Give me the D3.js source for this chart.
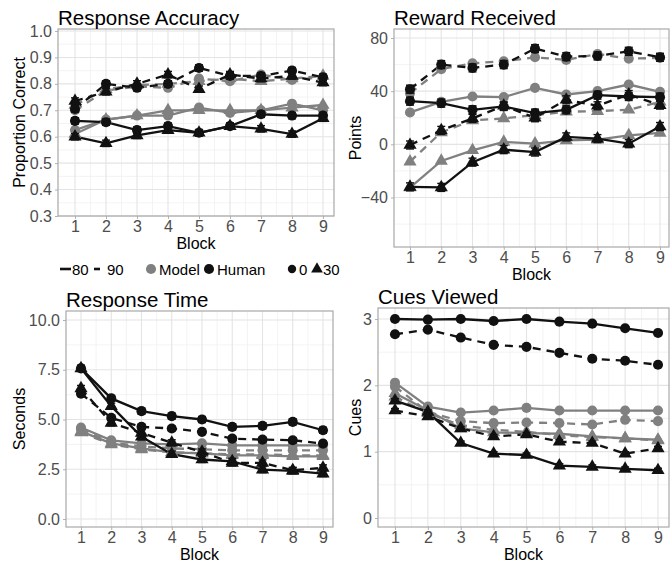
<!DOCTYPE html>
<html>
<head>
<meta charset="utf-8">
<title>Model vs Human</title>
<script type="text/javascript" src="https://d3js.org/d3.v7.js"></script>
<style>
  * { margin: 0; padding: 0; }
  body { background: #fff; }
  svg { display: block; font-family: "Liberation Sans", Arial, sans-serif; }
</style>
</head>
<body>
<div id="chart"></div>
<script type="text/javascript">
// blocks on the x axis
const blocks = [1, 2, 3, 4, 5, 6, 7, 8, 9];

// series order inside every array: [80 / 0, 80 / 30, 90 / 0, 90 / 30]
const seriesLine = ["80", "80", "90", "90"];
const seriesShape = ["0", "30", "0", "30"];

// Response Accuracy
const accModel = [
  [0.625, 0.665, 0.68, 0.68, 0.71, 0.69, 0.70, 0.725, 0.70],
  [0.61, 0.665, 0.68, 0.70, 0.70, 0.70, 0.70, 0.71, 0.72],
  [0.70, 0.775, 0.79, 0.785, 0.82, 0.81, 0.835, 0.815, 0.825],
  [0.72, 0.78, 0.795, 0.80, 0.81, 0.82, 0.81, 0.82, 0.83]
];
const accHuman = [
  [0.66, 0.655, 0.625, 0.64, 0.615, 0.64, 0.685, 0.68, 0.68],
  [0.60, 0.575, 0.605, 0.625, 0.615, 0.64, 0.63, 0.61, 0.67],
  [0.705, 0.80, 0.785, 0.80, 0.86, 0.83, 0.83, 0.85, 0.825],
  [0.735, 0.77, 0.80, 0.835, 0.78, 0.835, 0.82, 0.83, 0.805]
];
const accSE = [0.012, 0.012, 0.012, 0.012];
const accTicks = [0.3, 0.4, 0.5, 0.6, 0.7, 0.8, 0.9, 1.0];

// Reward Received
const rewModel = [
  [24, 32, 36, 35.5, 42.5, 37.5, 40, 45, 39.5],
  [-32.5, -12.5, -4.5, 1.8, 0.5, 3, 3.5, 6.8, 8.6],
  [38.5, 56.5, 61, 62.5, 65.5, 63.5, 68, 64.5, 65],
  [-13, 9, 18, 19.5, 22, 24.5, 25, 26, 32]
];
const rewHuman = [
  [32.5, 31, 26, 28.5, 23.5, 26, 37, 36, 35.5],
  [-32, -32.4, -13.4, -4, -5.8, 5.6, 4.3, 0.5, 13.4],
  [41.5, 60, 57.5, 60, 72, 66, 66.5, 70, 65.5],
  [-0.5, 10.5, 19.5, 29, 20, 33.5, 29, 37.5, 29.5]
];
const rewSE = [3, 3, 3, 3];
const rewTicks = [-40, 0, 40, 80];

// Response Time
const rtModel = [
  [4.6, 3.95, 3.8, 3.75, 3.8, 3.7, 3.7, 3.7, 3.7],
  [4.4, 3.8, 3.55, 3.35, 3.3, 3.2, 3.2, 3.15, 3.15],
  [4.5, 3.85, 3.65, 3.55, 3.5, 3.45, 3.45, 3.45, 3.45],
  [4.35, 3.75, 3.5, 3.35, 3.3, 3.25, 3.25, 3.2, 3.2]
];
const rtHuman = [
  [7.57, 6.06, 5.42, 5.17, 5.0, 4.63, 4.68, 4.88, 4.46],
  [7.57, 5.67, 4.13, 3.26, 2.99, 2.9, 2.48, 2.42, 2.28],
  [6.3, 5.08, 4.63, 4.55, 4.38, 4.04, 3.99, 3.96, 3.79],
  [6.56, 4.83, 4.33, 3.83, 3.37, 2.82, 2.82, 2.45, 2.57]
];
const rtSE = [0.15, 0.15, 0.12, 0.15];
const rtTicks = [0, 2.5, 5, 7.5, 10];

// Cues Viewed
const cueModel = [
  [2.04, 1.68, 1.59, 1.62, 1.66, 1.62, 1.62, 1.62, 1.62],
  [1.88, 1.62, 1.35, 1.29, 1.28, 1.27, 1.23, 1.2, 1.18],
  [1.98, 1.6, 1.46, 1.43, 1.44, 1.43, 1.41, 1.48, 1.46],
  [1.83, 1.58, 1.40, 1.33, 1.30, 1.25, 1.22, 1.2, 1.17]
];
const cueHuman = [
  [3.0, 2.99, 3.0, 2.97, 3.0, 2.96, 2.93, 2.86, 2.79],
  [1.77, 1.6, 1.13, 0.97, 0.95, 0.79, 0.77, 0.74, 0.72],
  [2.77, 2.84, 2.72, 2.61, 2.58, 2.49, 2.40, 2.37, 2.31],
  [1.62, 1.53, 1.35, 1.23, 1.26, 1.15, 1.13, 0.97, 1.05]
];
const cueSE = [0.02, 0.03, 0.03, 0.03];
const cueTicks = [0, 1, 2, 3];

// layout / styling
const W = 670, H = 562;
const colModel = "#808080", colHuman = "#111111";
const dashPat = "8,6";

const panels = [
  { title: "Response Accuracy", ylab: "Proportion Correct", model: accModel, human: accHuman, se: accSE,
    ticks: accTicks, fmt: d3.format(".1f"), box: { l: 58, r: 334, t: 29, b: 216 },
    xPx: [75, 323], yDom: [0.3, 1.0], yPx: [216, 31], ylabX: 19 },
  { title: "Reward Received", ylab: "Points", model: rewModel, human: rewHuman, se: rewSE,
    ticks: rewTicks, fmt: d3.format("d"), box: { l: 394, r: 669, t: 29, b: 247 },
    xPx: [410, 660], yDom: [-40, 80], yPx: [197.5, 38], ylabX: 355 },
  { title: "Response Time", ylab: "Seconds", model: rtModel, human: rtHuman, se: rtSE,
    ticks: rtTicks, fmt: d3.format(".1f"), box: { l: 66, r: 333, t: 311, b: 527 },
    xPx: [81, 323], yDom: [0, 10], yPx: [519, 320], ylabX: 19 },
  { title: "Cues Viewed", ylab: "Cues", model: cueModel, human: cueHuman, se: cueSE,
    ticks: cueTicks, fmt: d3.format("d"), box: { l: 378, r: 669, t: 308, b: 527 },
    xPx: [395, 658], yDom: [0, 3], yPx: [518, 319], ylabX: 355 }
];

const svg = d3.select("#chart").append("svg")
  .attr("width", W).attr("height", H)
  .attr("viewBox", `0 0 ${W} ${H}`);

const circleSym = d3.symbol().type(d3.symbolCircle).size(80);
const triSym = d3.symbol().type(d3.symbolTriangle).size(75);

function drawPanel(p) {
  const g = svg.append("g");
  const b = p.box;
  const x = d3.scaleLinear().domain([1, 9]).range(p.xPx);
  const y = d3.scaleLinear().domain(p.yDom).range(p.yPx);

  // gridlines: minor then major
  const xLo = x.invert(b.l), xHi = x.invert(b.r);
  const yLo = y.invert(b.b), yHi = y.invert(b.t);
  const step = p.ticks[1] - p.ticks[0];
  const yMinor = [];
  for (let i = 0; i < p.ticks.length - 1; i++) yMinor.push(p.ticks[i] + step / 2);
  yMinor.push(p.ticks[0] - step / 2, p.ticks[p.ticks.length - 1] + step / 2);
  const xMinor = blocks.slice(0, -1).map(d => d + 0.5);

  const grid = g.append("g");
  grid.selectAll(".ymin").data(yMinor.filter(v => v > yLo && v < yHi)).join("line")
    .attr("x1", b.l).attr("x2", b.r).attr("y1", d => y(d)).attr("y2", d => y(d))
    .attr("stroke", "#f0f0f0").attr("stroke-width", 0.8);
  grid.selectAll(".xmin").data(xMinor.filter(v => v > xLo && v < xHi)).join("line")
    .attr("y1", b.t).attr("y2", b.b).attr("x1", d => x(d)).attr("x2", d => x(d))
    .attr("stroke", "#f0f0f0").attr("stroke-width", 0.8);
  grid.selectAll(".ymaj").data(p.ticks).join("line")
    .attr("x1", b.l).attr("x2", b.r).attr("y1", d => y(d)).attr("y2", d => y(d))
    .attr("stroke", "#e4e4e4").attr("stroke-width", 1.1);
  grid.selectAll(".xmaj").data(blocks).join("line")
    .attr("y1", b.t).attr("y2", b.b).attr("x1", d => x(d)).attr("x2", d => x(d))
    .attr("stroke", "#e4e4e4").attr("stroke-width", 1.1);

  // axes
  const ya = g.append("g").attr("transform", `translate(${b.l},0)`)
    .call(d3.axisLeft(y).tickValues(p.ticks).tickFormat(p.fmt).tickSizeOuter(0).tickSize(3).tickPadding(3));
  const xa = g.append("g").attr("transform", `translate(0,${b.b})`)
    .call(d3.axisBottom(x).tickValues(blocks).tickFormat(d3.format("d")).tickSizeOuter(0).tickSize(3).tickPadding(2));
  [ya, xa].forEach(a => {
    a.select(".domain").remove();
    a.selectAll(".tick line").attr("stroke", "#b3b3b3").attr("stroke-width", 1);
    a.selectAll(".tick text").attr("fill", "#4d4d4d").style("font-size", "16px")
      .style("font-family", "'Liberation Sans', Arial, sans-serif");
  });
  xa.selectAll(".tick text").attr("dy", "0.71em");

  // panel border
  g.append("rect").attr("x", b.l).attr("y", b.t)
    .attr("width", b.r - b.l).attr("height", b.b - b.t)
    .attr("fill", "none").attr("stroke", "#a8a8a8").attr("stroke-width", 1.2);

  // titles
  g.append("text").attr("x", b.l).attr("y", b.t - 4).text(p.title)
    .style("font-size", "20.5px").attr("fill", "#000");
  g.append("text").attr("x", (b.l + b.r) / 2).attr("y", b.b + 32.5)
    .attr("text-anchor", "middle").text("Block").style("font-size", "16px").attr("fill", "#000");
  g.append("text").attr("transform", `translate(${p.ylabX + 6},${(b.t + b.b) / 2}) rotate(-90)`)
    .attr("text-anchor", "middle").text(p.ylab).style("font-size", "16px").attr("fill", "#000");

  // data
  const line = d3.line().x((d, i) => x(blocks[i])).y(d => y(d));
  const layers = [
    { rows: p.model, color: colModel, se: null },
    { rows: p.human, color: colHuman, se: p.se }
  ];
  const marks = g.append("g");
  layers.forEach(L => {
    L.rows.forEach((vals, s) => {
      marks.append("path").attr("d", line(vals))
        .attr("fill", "none").attr("stroke", L.color).attr("stroke-width", 2.3)
        .attr("stroke-dasharray", seriesLine[s] === "90" ? dashPat : null);
    });
  });
  layers.forEach(L => {
    L.rows.forEach((vals, s) => {
      if (L.se) {
        const e = L.se[s];
        const eb = marks.append("g").attr("stroke", L.color).attr("stroke-width", 1.4);
        eb.selectAll("line.v").data(vals).join("line")
          .attr("x1", (d, i) => x(blocks[i])).attr("x2", (d, i) => x(blocks[i]))
          .attr("y1", d => y(d - e)).attr("y2", d => y(d + e));
        eb.selectAll("line.t").data(vals).join("line")
          .attr("x1", (d, i) => x(blocks[i]) - 4).attr("x2", (d, i) => x(blocks[i]) + 4)
          .attr("y1", d => y(d + e)).attr("y2", d => y(d + e));
        eb.selectAll("line.b").data(vals).join("line")
          .attr("x1", (d, i) => x(blocks[i]) - 4).attr("x2", (d, i) => x(blocks[i]) + 4)
          .attr("y1", d => y(d - e)).attr("y2", d => y(d - e));
      }
      const sym = seriesShape[s] === "0" ? circleSym : triSym;
      marks.append("g").selectAll("path").data(vals).join("path")
        .attr("d", sym)
        .attr("transform", (d, i) => `translate(${x(blocks[i])},${y(d)})`)
        .attr("fill", L.color);
    });
  });
}

panels.forEach(drawPanel);

// legend (between the left panels)
const leg = svg.append("g").style("font-size", "15px");
const ly = 269;
leg.append("line").attr("x1", 60).attr("x2", 71).attr("y1", ly).attr("y2", ly)
  .attr("stroke", colHuman).attr("stroke-width", 2.6);
leg.append("text").attr("x", 72).attr("y", ly + 5.5).text(seriesLine[0]);
leg.append("line").attr("x1", 94).attr("x2", 100).attr("y1", ly).attr("y2", ly)
  .attr("stroke", colHuman).attr("stroke-width", 2.6);
leg.append("text").attr("x", 107).attr("y", ly + 5.5).text(seriesLine[2]);
leg.append("path").attr("d", circleSym).attr("transform", `translate(151,${ly})`).attr("fill", colModel);
leg.append("text").attr("x", 159).attr("y", ly + 5.5).text("Model");
leg.append("path").attr("d", circleSym).attr("transform", `translate(209,${ly})`).attr("fill", colHuman);
leg.append("text").attr("x", 217).attr("y", ly + 5.5).text("Human");
leg.append("path").attr("d", d3.symbol().type(d3.symbolCircle).size(55)).attr("transform", `translate(292,${ly})`).attr("fill", colHuman);
leg.append("text").attr("x", 299).attr("y", ly + 5.5).text(seriesShape[0]);
leg.append("path").attr("d", d3.symbol().type(d3.symbolTriangle).size(60)).attr("transform", `translate(317,${ly})`).attr("fill", colHuman);
leg.append("text").attr("x", 323).attr("y", ly + 5.5).text(seriesShape[1]);
</script>
</body>
</html>
